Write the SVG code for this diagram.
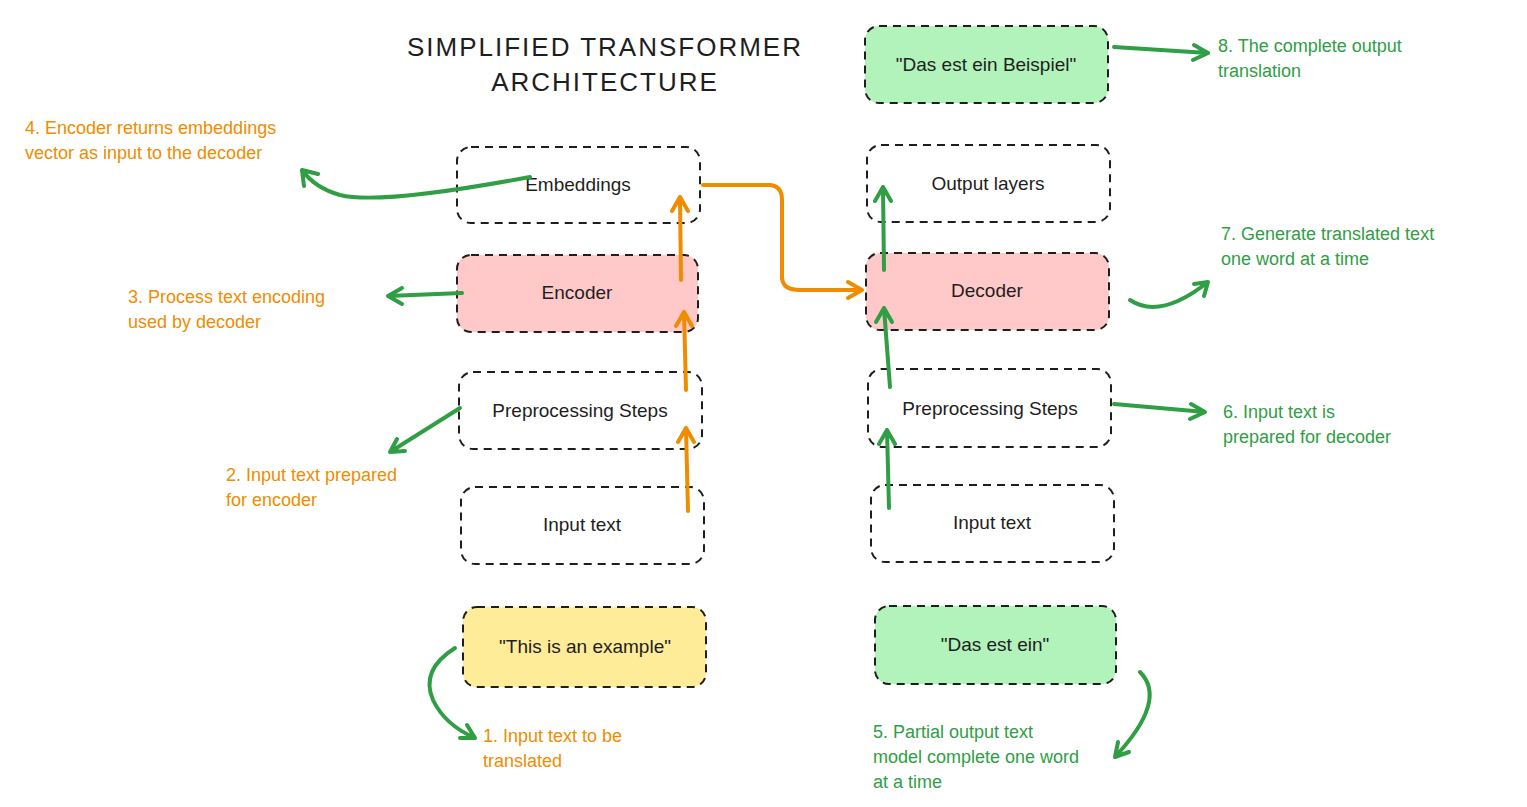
<svg xmlns="http://www.w3.org/2000/svg" width="1527" height="807" viewBox="0 0 1527 807">
<defs>
<style>
.box{stroke:#1e1e1e;stroke-width:2;stroke-dasharray:8 6;fill:none}
.t{font-family:"Liberation Sans",Arial,sans-serif;font-size:19px;fill:#1e1e1e;text-anchor:middle}
.o{font-family:"Liberation Sans",Arial,sans-serif;font-size:18px;fill:#f08c00}
.g{font-family:"Liberation Sans",Arial,sans-serif;font-size:18px;fill:#2f9e44}
.ao{stroke:#f08c00;stroke-width:4;fill:none;stroke-linecap:round;stroke-linejoin:round}
.ag{stroke:#2f9e44;stroke-width:4;fill:none;stroke-linecap:round;stroke-linejoin:round}
</style>
</defs>
<rect width="1527" height="807" fill="#fff"/>
<text x="605" y="56" class="t" style="font-size:26px;letter-spacing:2px">SIMPLIFIED TRANSFORMER</text>
<text x="605" y="91" class="t" style="font-size:26px;letter-spacing:2px">ARCHITECTURE</text>

<g id="embeddings"><rect x="457" y="147" width="243" height="76" rx="14" class="box"/><text x="578" y="191" class="t">Embeddings</text></g>
<g id="encoder"><rect x="457" y="255" width="241" height="77" rx="14" class="box" style="fill:#ffc9c9"/><text x="577" y="299" class="t">Encoder</text></g>
<g id="prep-l"><rect x="459" y="372" width="243" height="77" rx="14" class="box"/><text x="580" y="417" class="t">Preprocessing Steps</text></g>
<g id="input-l"><rect x="461" y="487" width="243" height="77" rx="14" class="box"/><text x="582" y="531" class="t">Input text</text></g>
<g id="example"><rect x="463" y="607" width="243" height="80" rx="14" class="box" style="fill:#ffec99"/><text x="585" y="653" class="t">"This is an example"</text></g>

<g id="final"><rect x="865" y="26" width="243" height="77" rx="14" class="box" style="fill:#b2f2bb"/><text x="986" y="71" class="t">"Das est ein Beispiel"</text></g>
<g id="output"><rect x="867" y="145" width="243" height="77" rx="14" class="box"/><text x="988" y="190" class="t">Output layers</text></g>
<g id="decoder"><rect x="866" y="253" width="243" height="77" rx="14" class="box" style="fill:#ffc9c9"/><text x="987" y="297" class="t">Decoder</text></g>
<g id="prep-r"><rect x="868" y="369" width="243" height="78" rx="14" class="box"/><text x="990" y="415" class="t">Preprocessing Steps</text></g>
<g id="input-r"><rect x="871" y="485" width="243" height="77" rx="14" class="box"/><text x="992" y="529" class="t">Input text</text></g>
<g id="partial"><rect x="875" y="606" width="241" height="78" rx="14" class="box" style="fill:#b2f2bb"/><text x="995" y="651" class="t">"Das est ein"</text></g>

<g id="labels">
<text class="o" x="25" y="134">4. Encoder returns embeddings</text>
<text class="o" x="25" y="159">vector as input to the decoder</text>
<text class="o" x="128" y="303">3. Process text encoding</text>
<text class="o" x="128" y="328">used by decoder</text>
<text class="o" x="226" y="481">2. Input text prepared</text>
<text class="o" x="226" y="506">for encoder</text>
<text class="o" x="483" y="742">1. Input text to be</text>
<text class="o" x="483" y="767">translated</text>
<text class="g" x="1218" y="52">8. The complete output</text>
<text class="g" x="1218" y="77">translation</text>
<text class="g" x="1221" y="240">7. Generate translated text</text>
<text class="g" x="1221" y="265">one word at a time</text>
<text class="g" x="1223" y="418">6. Input text is</text>
<text class="g" x="1223" y="443">prepared for decoder</text>
<text class="g" x="873" y="738">5. Partial output text</text>
<text class="g" x="873" y="763">model complete one word</text>
<text class="g" x="873" y="788">at a time</text>
</g>

<g id="connectors">
<path class="ao" d="M688 511 L686 428 M678 442 L686 428 L694 442"/>
<path class="ao" d="M686 390 L684 312 M676 326 L684 312 L692 326"/>
<path class="ao" d="M681 280 L680 197 M672 211 L680 197 L688 211"/>
<path class="ao" d="M703 185 L770 185 Q782 186 782 200 L782 278 Q783 290 800 290 L862 290 M848 282 L862 290 L848 298"/>
<path class="ag" d="M530 177 Q380 205 340 195 Q315 188 302 170 M318 174 L302 170 L304 186"/>
<path class="ag" d="M462 293 L388 296 M402 288 L388 296 L402 304"/>
<path class="ag" d="M460 408 L390 452 M397 439 L390 452 L405 451"/>
<path class="ag" d="M455 648 Q420 670 433 700 Q445 725 475 738 M460 738 L475 738 L467 725"/>
<path class="ag" d="M889 508 L887 430 M879 444 L887 430 L895 444"/>
<path class="ag" d="M890 387 L884 308 M876 322 L884 308 L892 322"/>
<path class="ag" d="M884 270 L883 187 M875 201 L883 187 L891 201"/>
<path class="ag" d="M1130 300 Q1160 320 1208 282 M1194 284 L1208 282 L1204 296"/>
<path class="ag" d="M1114 404 L1205 412 M1191 404 L1205 412 L1190 419"/>
<path class="ag" d="M1114 47 L1208 53 M1194 45 L1208 53 L1193 60"/>
<path class="ag" d="M1140 672 Q1168 700 1115 757 M1118 742 L1115 757 L1129 752"/>
</g>
</svg>
